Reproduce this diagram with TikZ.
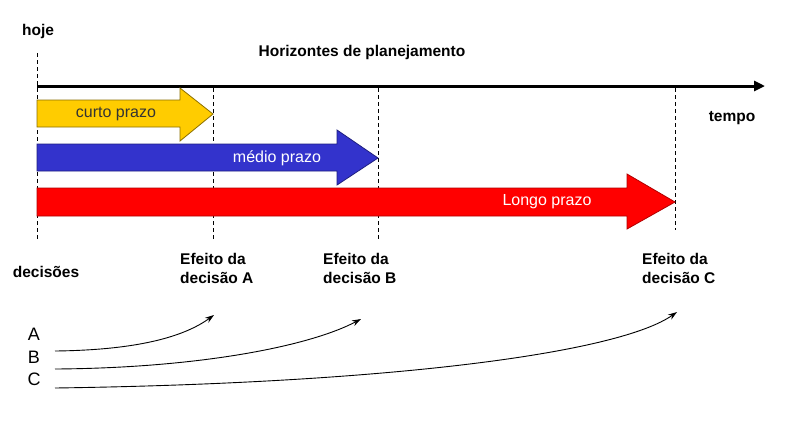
\documentclass[tikz,border=0pt]{standalone}
\usepackage{fontspec}
\setmainfont{Liberation Sans}
\usetikzlibrary{arrows.meta}
\definecolor{yel}{HTML}{FFCC00}
\definecolor{yelb}{HTML}{8C7000}
\definecolor{blu}{HTML}{3333CC}
\definecolor{blub}{HTML}{1F1F80}
\definecolor{rd}{HTML}{FF0000}
\definecolor{rdb}{HTML}{B00000}
\definecolor{txtd}{HTML}{333333}
\tikzset{
  lbl/.style={font=\fontsize{15.5}{18}\selectfont\bfseries, inner sep=0pt},
  eff/.style={font=\fontsize{15.5}{19}\selectfont\bfseries, inner sep=0pt, align=left, anchor=north west},
  arrlbl/.style={font=\fontsize{16}{18}\selectfont, inner sep=0pt},
  letter/.style={font=\fontsize{18}{20}\selectfont, inner sep=0pt},
  guide/.style={dash pattern=on 4pt off 3pt, line width=0.9pt},
  effect/.style={line width=0.9pt, -{Stealth[length=9pt,width=6pt]}},
}
\begin{document}
\begin{tikzpicture}[x=1pt,y=-1pt]
\useasboundingbox[fill=white] (0,0) rectangle (789,424);
% guides
\draw[guide] (37,53) -- (37,240);
\draw[guide] (213,88) -- (213,240);
\draw[guide] (378,88) -- (378,240);
\draw[guide] (675,88) -- (675,230);
% axis
\coordinate (t0) at (37,86);
\coordinate (t1) at (765,86);
\draw[line width=3pt, -{Triangle[length=11pt,width=10pt]}] (t0) -- (t1);
% arrows
\fill[yel, draw=yelb, line width=0.8pt] (37,100) -- (180,100) -- (180,88) -- (213,114) -- (180,141) -- (180,127) -- (37,127) -- cycle;
\fill[blu, draw=blub, line width=0.8pt] (37,144) -- (337,144) -- (337,130) -- (378,158) -- (337,185) -- (337,171) -- (37,171) -- cycle;
\fill[rd, draw=rdb, line width=0.8pt] (37,188) -- (627,188) -- (627,174) -- (675,202) -- (627,229) -- (627,216) -- (37,216) -- cycle;
\node[arrlbl, text=txtd] (curto) at (116,114) {curto prazo};
\node[arrlbl, text=white] (medio) at (277,158) {médio prazo};
\node[arrlbl, text=white] (longo) at (547,202) {Longo prazo};
% labels
\node[lbl] (hoje) at (38,31) {hoje};
\node[lbl] (hor) at (362,52) {Horizontes de planejamento};
\node[lbl] (tempo) at (732,118) {tempo};
\node[lbl] (dec) at (46,272) {decisões};
\node[eff] (effA) at (180,253) {Efeito da\\decisão A};
\node[eff] (effB) at (323,253) {Efeito da\\decisão B};
\node[eff] (effC) at (642,253) {Efeito da\\decisão C};
\node[letter] (A) at (34,334) {A};
\node[letter] (B) at (34,357) {B};
\node[letter] (C) at (34,379) {C};
% effect curves
\coordinate (sA) at (55,351);
\coordinate (eA) at (214,315);
\coordinate (sB) at (55,369);
\coordinate (eB) at (361,319);
\coordinate (sC) at (55,388);
\coordinate (eC) at (677,312);
\draw[effect] (sA) .. controls (140,350) and (185,336) .. (eA);
\draw[effect] (sB) .. controls (200,368) and (310,346) .. (eB);
\draw[effect] (sC) .. controls (400,383) and (620,352) .. (eC);
\end{tikzpicture}
\end{document}
